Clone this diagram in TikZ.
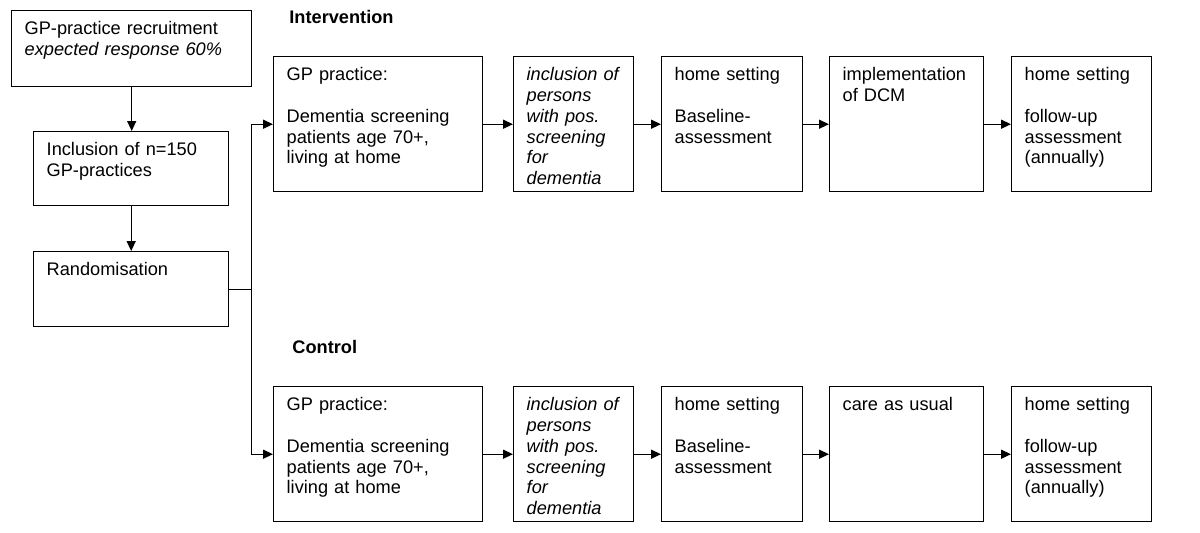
\documentclass[tikz,border=0pt]{standalone}
\usepackage{fontspec}
\setmainfont{Liberation Sans}
\usetikzlibrary{arrows.meta}

\begin{document}
\begin{tikzpicture}[x=0.5pt, y=-0.5pt,
  stage/.style={draw, line width=0.7pt, anchor=north west, align=left, inner xsep=6.5pt, inner ysep=0pt, text height=12pt, font=\fontsize{9.1}{10.4}\selectfont},
  flow/.style={-{Triangle[length=5pt, width=4.5pt]}, line width=0.7pt},
  group/.style={anchor=west, inner sep=0pt, font=\fontsize{9.1}{10.4}\selectfont\bfseries}]

\useasboundingbox (0,0) rectangle (1200,532);

% recruitment column

\node[stage, text width=107pt, text depth=26pt] (recruit) at (11,10) {GP-practice recruitment\\\textit{expected response 60\%}};
\node[stage, text width=84.5pt, text depth=25pt] (inclusion) at (33,131) {Inclusion of n=150\\GP-practices};
\node[stage, text width=84.5pt, text depth=25.5pt] (random) at (33,251) {Randomisation};

% group headings

\node[group] (intervention) at (289,17) {Intervention};
\node[group] (control) at (292,347) {Control};

% intervention row

\node[stage, text width=91.5pt, text depth=55.5pt] (gpi) at (273,56) {GP practice:\\[10.4pt]Dementia screening\\patients age 70+,\\living at home};
\node[stage, text width=47pt, text depth=55.5pt] (posi) at (513,56) {\itshape inclusion of\\\itshape persons\\\itshape with pos.\\\itshape screening\\\itshape for\\\itshape dementia};
\node[stage, text width=57.5pt, text depth=55.5pt] (basei) at (661,56) {home setting\\[10.4pt]Baseline-\\assessment};
\node[stage, text width=64pt, text depth=55.5pt] (dcmi) at (829,56) {implementation\\of DCM};
\node[stage, text width=57pt, text depth=55.5pt] (followi) at (1011,56) {home setting\\[10.4pt]follow-up\\assessment\\(annually)};

% control row

\node[stage, text width=91.5pt, text depth=55.5pt] (gpc) at (273,386) {GP practice:\\[10.4pt]Dementia screening\\patients age 70+,\\living at home};
\node[stage, text width=47pt, text depth=55.5pt] (posc) at (513,386) {\itshape inclusion of\\\itshape persons\\\itshape with pos.\\\itshape screening\\\itshape for\\\itshape dementia};
\node[stage, text width=57.5pt, text depth=55.5pt] (basec) at (661,386) {home setting\\[10.4pt]Baseline-\\assessment};
\node[stage, text width=64pt, text depth=55.5pt] (usualc) at (829,386) {care as usual};
\node[stage, text width=57pt, text depth=55.5pt] (followc) at (1011,386) {home setting\\[10.4pt]follow-up\\assessment\\(annually)};

% column arrows
\draw[flow] (recruit.south) -- (recruit.south |- inclusion.north);
\draw[flow] (inclusion) -- (random);

% randomisation split
\draw[flow] (random.east) -- ++(22,0) |- (gpi.west);
\draw[flow] (random.east) -- ++(22,0) |- (gpc.west);

% row arrows
\draw[flow] (gpi) -- (posi);
\draw[flow] (posi) -- (basei);
\draw[flow] (basei) -- (dcmi);
\draw[flow] (dcmi) -- (followi);

\draw[flow] (gpc) -- (posc);
\draw[flow] (posc) -- (basec);
\draw[flow] (basec) -- (usualc);
\draw[flow] (usualc) -- (followc);

\end{tikzpicture}
\end{document}
